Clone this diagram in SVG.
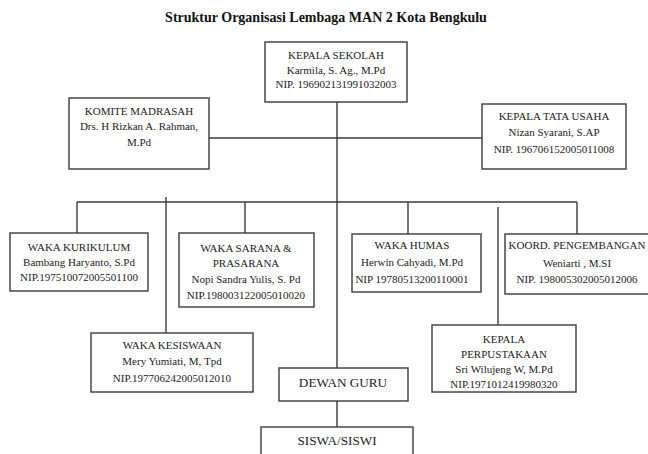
<svg xmlns="http://www.w3.org/2000/svg" width="648" height="454" viewBox="0 0 648 454">
<style>
.box{fill:#fff;stroke:#3a3a3a;stroke-width:1.4}
.t{font-family:"Liberation Serif","Times New Roman",serif;font-size:11px;fill:#222;text-anchor:middle}
.big{font-size:13.2px}
.title{font-family:"Liberation Serif","Times New Roman",serif;font-size:14px;font-weight:bold;fill:#111;text-anchor:middle}
.ln{stroke:#3a3a3a;stroke-width:1.4;fill:none}
</style>
<rect width="648" height="454" fill="#fff"/>
<text class="title" x="326" y="22">Struktur Organisasi Lembaga MAN 2 Kota Bengkulu</text>
<g id="connectors">
<line class="ln" x1="337" y1="102" x2="337" y2="368"/>
<line class="ln" x1="209" y1="138" x2="482" y2="138"/>
<line class="ln" x1="77" y1="202" x2="577" y2="202"/>
<line class="ln" x1="77" y1="202" x2="77" y2="233"/>
<line class="ln" x1="245" y1="202" x2="245" y2="233"/>
<line class="ln" x1="408" y1="202" x2="408" y2="234"/>
<line class="ln" x1="577" y1="202" x2="577" y2="234"/>
<line class="ln" x1="166" y1="197" x2="166" y2="333"/>
<line class="ln" x1="498" y1="207" x2="498" y2="325"/>
<line class="ln" x1="337" y1="401" x2="337" y2="427"/>
</g>
<g id="kepala-sekolah">
<rect class="box" x="265" y="42" width="142" height="60"/>
<text class="t" x="336" y="59">KEPALA SEKOLAH</text>
<text class="t" x="336" y="74">Karmila, S. Ag., M.Pd</text>
<text class="t" x="336" y="88">NIP. 196902131991032003</text>
</g>
<g id="komite">
<rect class="box" x="69" y="98" width="140" height="71"/>
<text class="t" x="139" y="115">KOMITE MADRASAH</text>
<text class="t" x="139" y="130">Drs. H Rizkan A. Rahman,</text>
<text class="t" x="139" y="146">M.Pd</text>
</g>
<g id="tata-usaha">
<rect class="box" x="482" y="104" width="144" height="65"/>
<text class="t" x="554" y="120">KEPALA TATA USAHA</text>
<text class="t" x="554" y="136">Nizan Syarani, S.AP</text>
<text class="t" x="554" y="153">NIP. 196706152005011008</text>
</g>
<g id="kurikulum">
<rect class="box" x="10" y="233" width="138" height="58"/>
<text class="t" x="79" y="251">WAKA KURIKULUM</text>
<text class="t" x="79" y="266">Bambang Haryanto, S.Pd</text>
<text class="t" x="79" y="281">NIP.197510072005501100</text>
</g>
<g id="sarana">
<rect class="box" x="179" y="233" width="135" height="74"/>
<text class="t" x="246" y="252">WAKA SARANA &amp;</text>
<text class="t" x="246" y="267">PRASARANA</text>
<text class="t" x="246" y="283">Nopi Sandra Yulis, S. Pd</text>
<text class="t" x="246" y="299">NIP.198003122005010020</text>
</g>
<g id="humas">
<rect class="box" x="352" y="234" width="129" height="58"/>
<text class="t" x="412" y="249">WAKA HUMAS</text>
<text class="t" x="412" y="266">Herwin Cahyadi, M.Pd</text>
<text class="t" x="412" y="283">NIP 19780513200110001</text>
</g>
<g id="koord">
<rect class="box" x="505" y="234" width="146" height="60"/>
<text class="t" x="577" y="249">KOORD. PENGEMBANGAN</text>
<text class="t" x="577" y="267">Weniarti , M.SI</text>
<text class="t" x="577" y="283">NIP. 198005302005012006</text>
</g>
<g id="kesiswaan">
<rect class="box" x="91" y="333" width="162" height="59"/>
<text class="t" x="172" y="349">WAKA KESISWAAN</text>
<text class="t" x="172" y="365">Mery Yumiati, M, Tpd</text>
<text class="t" x="172" y="382">NIP.197706242005012010</text>
</g>
<g id="perpustakaan">
<rect class="box" x="432" y="325" width="144" height="67"/>
<text class="t" x="504" y="343">KEPALA</text>
<text class="t" x="504" y="358">PERPUSTAKAAN</text>
<text class="t" x="504" y="373">Sri Wilujeng W, M.Pd</text>
<text class="t" x="504" y="388">NIP.1971012419980320</text>
</g>
<g id="dewan-guru">
<rect class="box" x="279" y="368" width="129" height="33"/>
<text class="t big" x="343" y="387">DEWAN GURU</text>
</g>
<g id="siswa">
<rect class="box" x="261" y="427" width="152" height="34"/>
<text class="t big" x="337" y="445">SISWA/SISWI</text>
</g>
</svg>
